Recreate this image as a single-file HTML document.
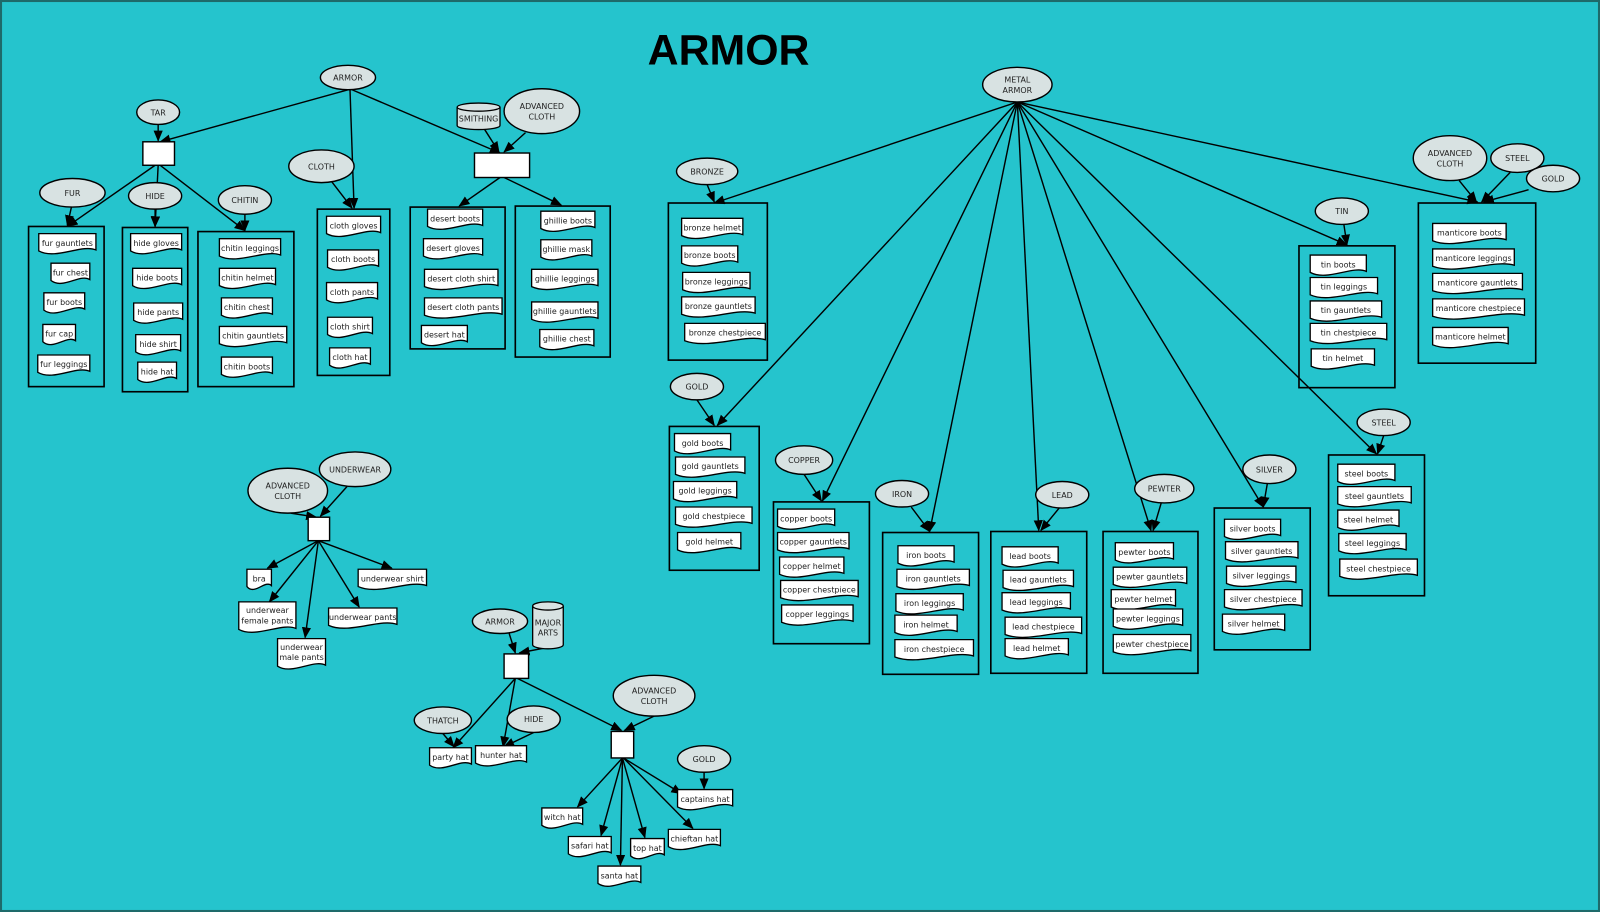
<!DOCTYPE html>
<html><head><meta charset="utf-8"><style>
html,body{margin:0;padding:0;background:#25c4cd;}
svg{display:block}
text{font-family:"DejaVu Sans","Liberation Sans",sans-serif;fill:#222}
</style></head><body>
<svg id="s" width="1600" height="912" viewBox="0 0 1568 894" preserveAspectRatio="none" xmlns="http://www.w3.org/2000/svg">
<defs><marker id="a" markerWidth="11" markerHeight="10" refX="10" refY="4.5" orient="auto" markerUnits="userSpaceOnUse"><path d="M0,0 L11,4.5 L0,9 z" fill="#000"/></marker></defs>
<rect x="1" y="1" width="1566" height="892" fill="#25c4cd" stroke="#1e6a6a" stroke-width="2"/>
<text x="714" y="63" text-anchor="middle" style="font-family:'Liberation Sans',sans-serif;font-weight:bold;font-size:42px;fill:#000">ARMOR</text>
<g id="g"></g>
</svg>
<script>
var g=document.getElementById('g'),h='';
var FS=7.8;
function E(cx,cy,rx,ry,t){h+='<ellipse cx="'+cx+'" cy="'+cy+'" rx="'+rx+'" ry="'+ry+'" fill="#d8e2e2" stroke="#000" stroke-width="1.4"/>';
var L=t.split('|');L.forEach(function(s,i){h+='<text x="'+cx+'" y="'+(cy+3+(i-(L.length-1)/2)*10)+'" text-anchor="middle" font-size="'+FS+'">'+s+'</text>';});}
function R(x,y,x2,y2){h+='<rect x="'+x+'" y="'+y+'" width="'+(x2-x)+'" height="'+(y2-y)+'" fill="none" stroke="#000" stroke-width="1.6"/>';}
function B(x,y,x2,y2){h+='<rect x="'+x+'" y="'+y+'" width="'+(x2-x)+'" height="'+(y2-y)+'" fill="#fff" stroke="#000" stroke-width="1.4"/>';}
function D(x,y,w,t,hh){hh=hh||20;var b=y+hh-4;
h+='<path d="M'+x+','+y+' h'+w+' V'+b+' C'+(x+w*0.75)+','+(b-6)+' '+(x+w*0.3)+','+(b+10)+' '+x+','+(b+1)+' Z" fill="#fff" stroke="#000" stroke-width="1.3"/>';
var L=t.split('|');L.forEach(function(s,i){h+='<text x="'+(x+w/2)+'" y="'+(y+12+i*10-(L.length>1?1:0))+'" text-anchor="middle" font-size="'+FS+'">'+s+'</text>';});}
function A(x1,y1,x2,y2){h+='<line x1="'+x1+'" y1="'+y1+'" x2="'+x2+'" y2="'+y2+'" stroke="#000" stroke-width="1.4" marker-end="url(#a)"/>';}
function C(x,y,w,hh,t){var ry=4;h+='<path d="M'+x+','+(y+ry)+' A'+(w/2)+','+ry+' 0 0 1 '+(x+w)+','+(y+ry)+' V'+(y+hh-ry)+' A'+(w/2)+','+ry+' 0 0 1 '+x+','+(y+hh-ry)+' Z" fill="#d8e2e2" stroke="#000" stroke-width="1.3"/><path d="M'+x+','+(y+ry)+' A'+(w/2)+','+ry+' 0 0 0 '+(x+w)+','+(y+ry)+'" fill="none" stroke="#000" stroke-width="1.3"/>';
var L=t.split('|');L.forEach(function(s,i){h+='<text x="'+(x+w/2)+'" y="'+(y+hh/2+5+(i-(L.length-1)/2)*10)+'" text-anchor="middle" font-size="'+FS+'">'+s+'</text>';});}
A(341,88,157,139);A(155,122,155,138);A(343,88,347,204);A(345,88,490,150);
A(152,162,66,222);A(155,162,152,222);A(157,162,240,226);
A(70,203,66,221);A(152,205,152,222);A(240,210,240,226);A(325,178,345,204);
A(475,127,489,149);A(515,130,494,149);A(490,174,450,202);A(494,174,550,201);
var M=[997,100];
[[700,199],[703,417],[806,491],[911,521],[1018,520],[1128,520],[1238,497],[1349,445],[1320,240],[1448,198]].forEach(function(p){A(M[0],M[1],p[0],p[1]);});
A(693,181,700,198);A(683,392,700,417);A(788,465,805,491);A(893,497,911,521);A(1038,498,1020,520);A(1138,493,1130,520);A(1242,474,1238,497);A(1356,427,1350,445);A(1317,220,1320,240);
A(1430,177,1447,198);A(1480,169,1452,198);A(1498,186,1454,198);
A(285,503,310,507);A(340,477,314,506);
A(312,530,262,557);A(312,530,264,590);A(312,530,299,625);A(312,530,352,595);A(312,530,384,557);
A(499,621,505,640);A(540,634,509,640);
A(505,665,444,733);A(505,665,493,732);A(507,665,609,716);A(434,719,445,732);A(523,718,494,732);A(641,702,612,716);
A(610,743,566,791);A(610,743,589,819);A(610,743,608,848);A(610,743,632,821);A(611,743,679,812);A(611,743,668,778);A(690,757,690,773);
E(341,76,27,12,'ARMOR');E(155,110,21,12,'TAR');B(140,139,171,162);
E(71,189,32,14,'FUR');E(152,192,26,13,'HIDE');E(240,196,26,14,'CHITIN');E(315,163,32,16,'CLOTH');
C(448,101,42,26,'SMITHING');E(531,109,37,22,'ADVANCED|CLOTH');B(465,150,519,174);
R(28,222,102,379);D(38,229,56,'fur gauntlets');D(50,258,38,'fur chest');D(43,287,40,'fur boots');D(42,318,32,'fur cap');D(37,348,51,'fur leggings');
R(120,223,184,384);D(128,229,50,'hide gloves');D(130,263,48,'hide boots');D(131,297,48,'hide pants');D(133,328,44,'hide shirt');D(135,355,38,'hide hat');
R(194,227,288,379);D(215,234,60,'chitin leggings');D(215,263,55,'chitin helmet');D(217,292,50,'chitin chest');D(215,320,66,'chitin gauntlets');D(217,350,50,'chitin boots');
R(311,205,382,368);D(320,212,53,'cloth gloves');D(321,245,50,'cloth boots');D(320,277,50,'cloth pants');D(321,311,44,'cloth shirt');D(323,341,40,'cloth hat');
R(402,203,495,342);D(419,205,54,'desert boots');D(415,234,58,'desert gloves');D(416,264,72,'desert cloth shirt');D(416,292,76,'desert cloth pants');D(413,319,45,'desert hat');
R(505,202,598,350);D(530,207,53,'ghillie boots');D(530,235,50,'ghillie mask');D(521,264,65,'ghillie leggings');D(521,296,65,'ghillie gauntlets');D(529,323,53,'ghillie chest');
E(997,83,34,17,'METAL|ARMOR');
E(693,168,30,13,'BRONZE');R(655,199,752,353);D(668,214,60,'bronze helmet');D(668,241,55,'bronze boots');D(669,267,66,'bronze leggings');D(668,291,72,'bronze gauntlets');D(671,317,79,'bronze chestpiece');
E(683,379,26,13,'GOLD');R(656,418,744,559);D(661,425,55,'gold boots');D(662,448,68,'gold gauntlets');D(660,472,62,'gold leggings');D(662,497,75,'gold chestpiece');D(664,522,62,'gold helmet');
E(788,451,28,14,'COPPER');R(758,492,852,631);D(762,499,56,'copper boots');D(762,522,70,'copper gauntlets');D(764,546,63,'copper helmet');D(765,569,76,'copper chestpiece');D(766,593,70,'copper leggings');
E(884,484,26,13,'IRON');R(865,522,959,661);D(880,535,55,'iron boots');D(879,558,71,'iron gauntlets');D(878,582,66,'iron leggings');D(877,603,61,'iron helmet');D(877,627,77,'iron chestpiece');
E(1041,485,26,13,'LEAD');R(971,521,1065,660);D(982,536,55,'lead boots');D(983,559,69,'lead gauntlets');D(982,581,67,'lead leggings');D(985,605,75,'lead chestpiece');D(985,626,62,'lead helmet');
E(1141,479,29,14,'PEWTER');R(1081,521,1174,660);D(1093,532,57,'pewter boots');D(1091,556,72,'pewter gauntlets');D(1089,578,63,'pewter helmet');D(1091,597,68,'pewter leggings');D(1091,622,76,'pewter chestpiece');
E(1244,460,26,14,'SILVER');R(1190,498,1284,637);D(1200,509,55,'silver boots');D(1201,531,71,'silver gauntlets');D(1202,555,68,'silver leggings');D(1200,578,76,'silver chestpiece');D(1198,602,61,'silver helmet');
E(1356,414,26,13,'STEEL');R(1302,446,1396,584);D(1311,455,56,'steel boots');D(1311,477,72,'steel gauntlets');D(1311,500,60,'steel helmet');D(1312,523,66,'steel leggings');D(1313,548,76,'steel chestpiece');
E(1315,207,26,13,'TIN');R(1273,241,1367,380);D(1284,250,55,'tin boots');D(1284,272,66,'tin leggings');D(1284,295,70,'tin gauntlets');D(1284,317,75,'tin chestpiece');D(1285,342,62,'tin helmet');
E(1421,155,36,22,'ADVANCED|CLOTH');E(1487,155,26,14,'STEEL');E(1522,175,26,13,'GOLD');
R(1390,199,1505,356);D(1404,219,72,'manticore boots');D(1404,244,80,'manticore leggings');D(1404,268,88,'manticore gauntlets');D(1404,293,90,'manticore chestpiece');D(1404,321,74,'manticore helmet');
E(282,481,39,22,'ADVANCED|CLOTH');E(348,460,35,17,'UNDERWEAR');B(302,507,323,530);
D(242,558,24,'bra');D(351,558,67,'underwear shirt');D(234,590,56,'underwear|female pants',30);D(322,596,67,'underwear pants');D(272,626,47,'underwear|male pants',30);
E(490,609,27,12,'ARMOR');C(522,590,30,46,'MAJOR|ARTS');B(494,641,518,665);
E(434,706,28,13,'THATCH');E(523,705,26,13,'HIDE');D(421,733,41,'party hat');D(466,731,50,'hunter hat');
E(641,682,40,20,'ADVANCED|CLOTH');B(599,717,621,743);E(690,744,26,13,'GOLD');
D(664,774,54,'captains hat');D(531,792,40,'witch hat');D(557,820,42,'safari hat');D(586,849,42,'santa hat');D(618,822,33,'top hat');D(655,813,51,'chieftan hat');
g.innerHTML=h;
</script>
</body></html>
